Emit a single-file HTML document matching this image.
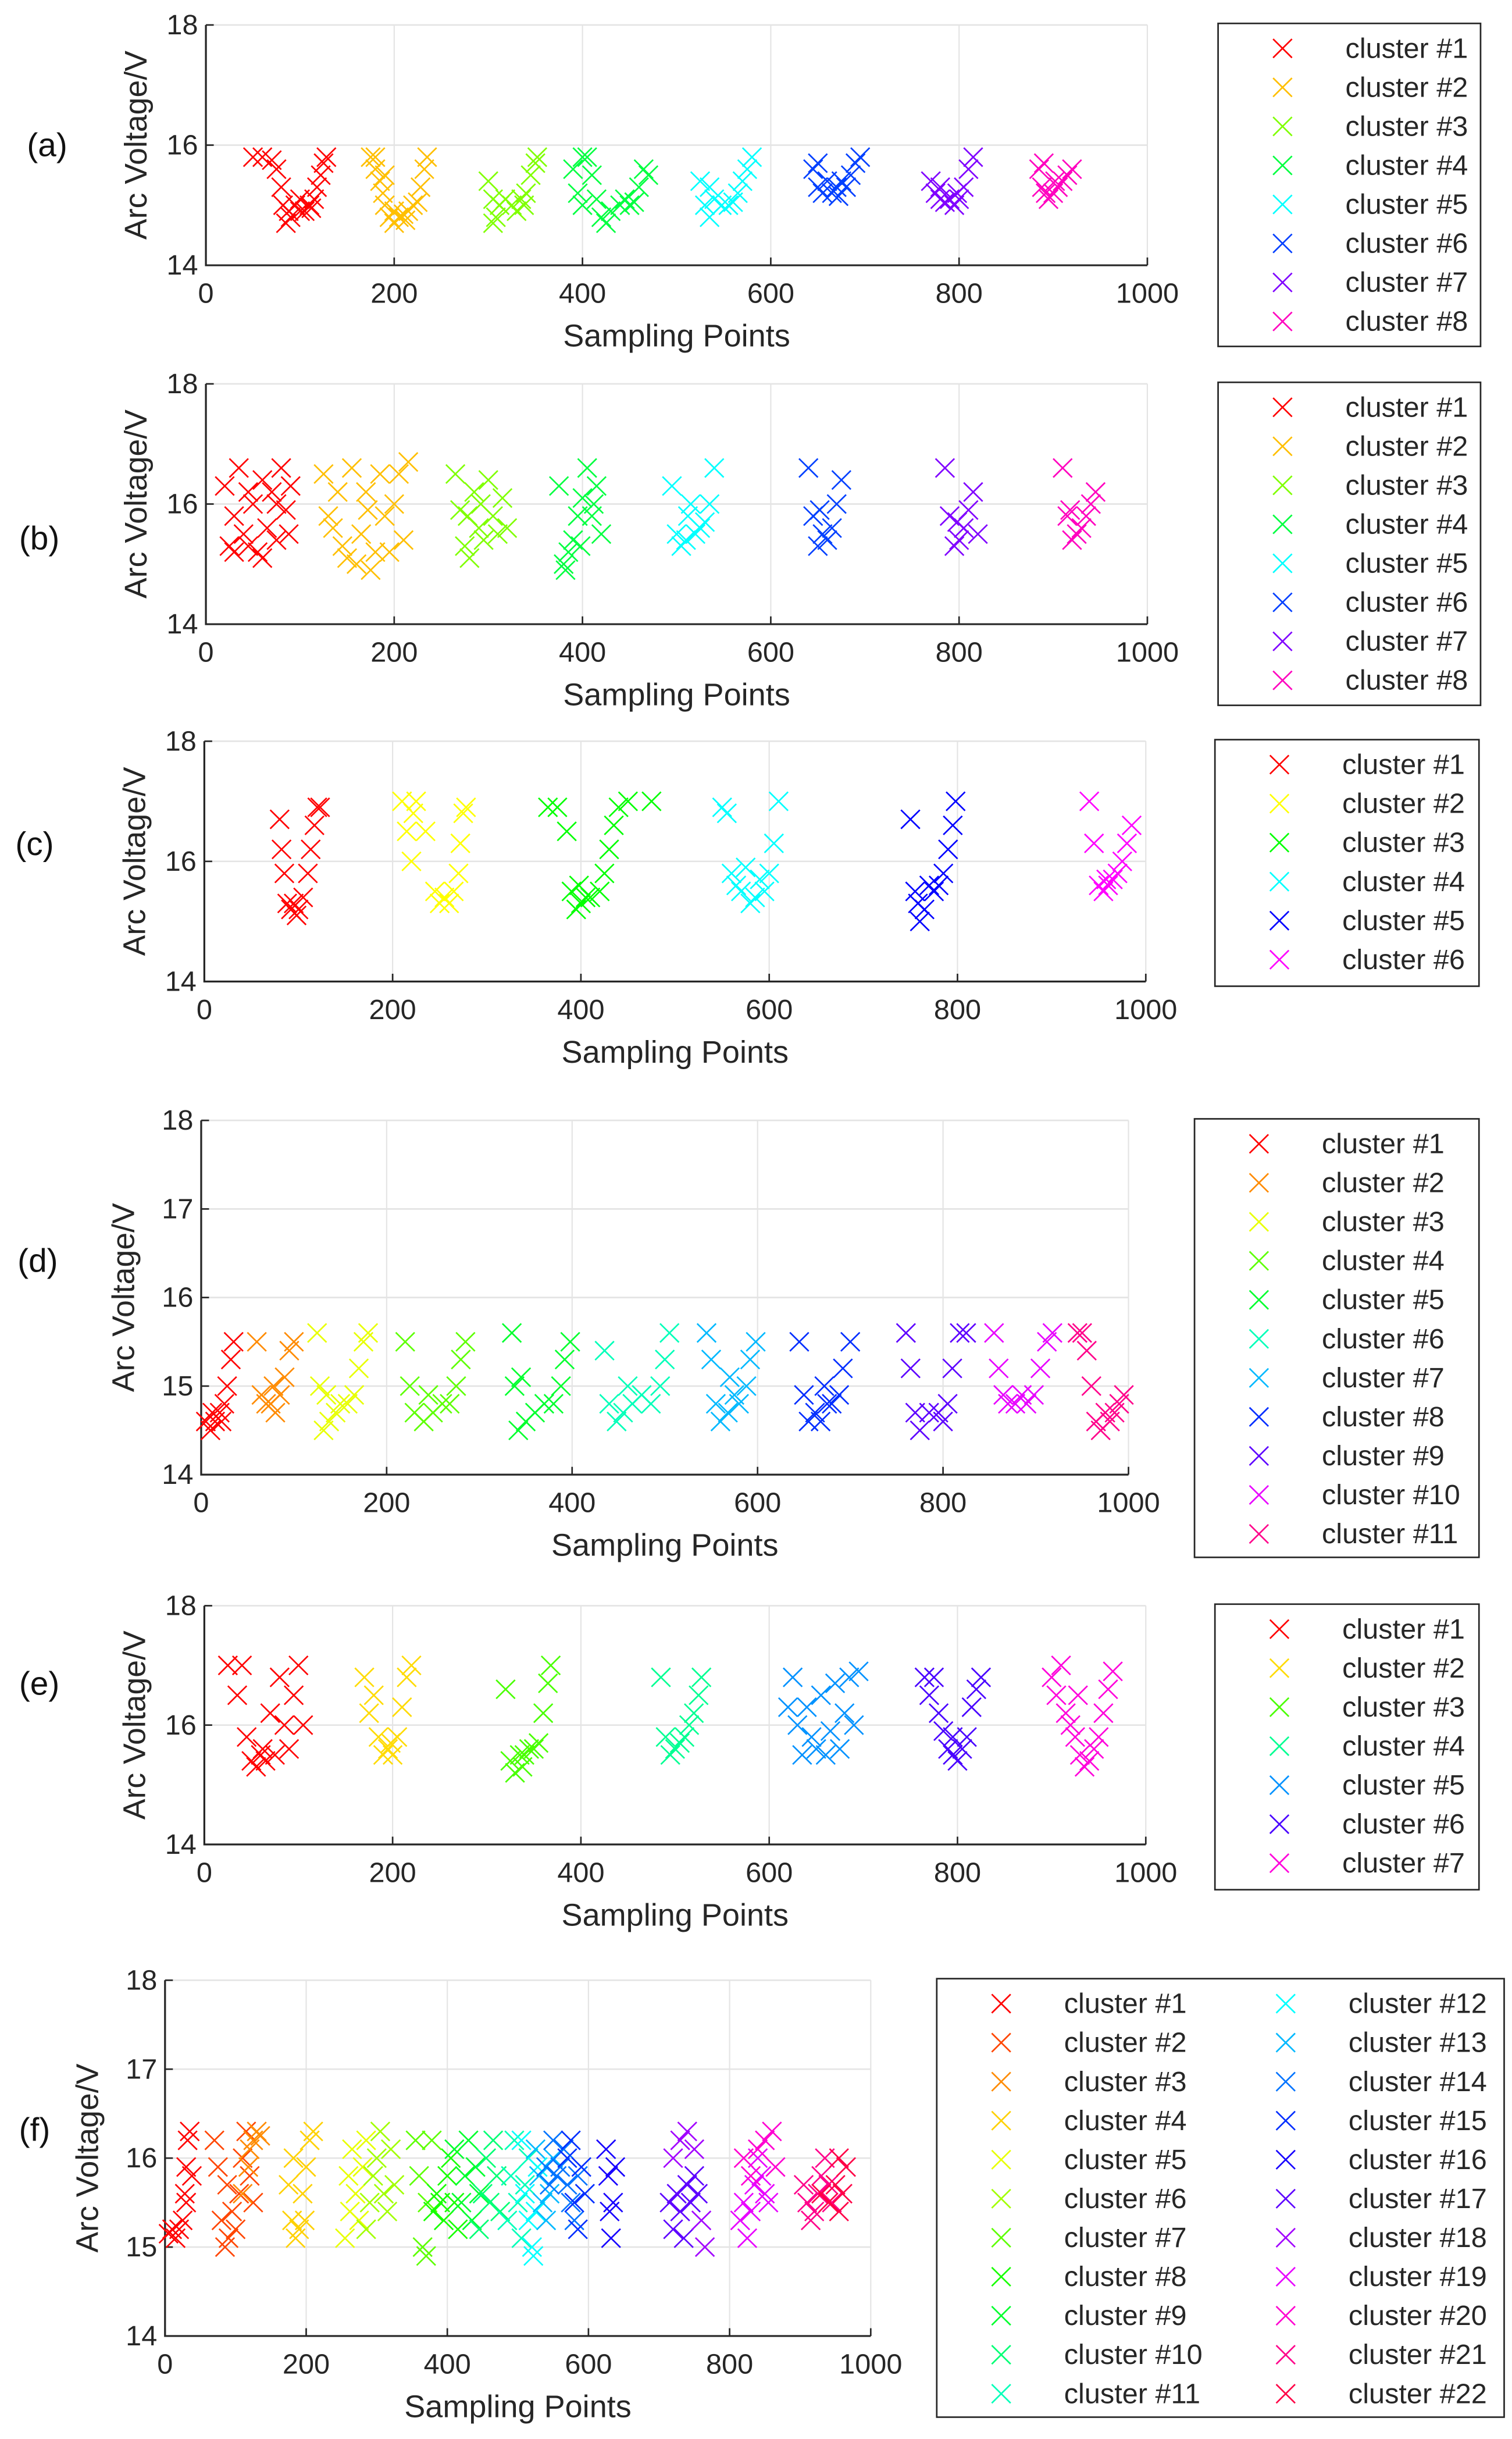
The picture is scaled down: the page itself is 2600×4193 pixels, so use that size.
<!DOCTYPE html>
<html><head><meta charset="utf-8"><style>
html,body{margin:0;padding:0;background:#fff;}
svg{display:block;font-family:"Liberation Sans",sans-serif;}
</style></head><body>
<svg id="fig" width="2600" height="4193" viewBox="0 0 962 1563" preserveAspectRatio="none" xmlns="http://www.w3.org/2000/svg"></svg>
<script>
// ---- data (x = sampling point, y = arc voltage) ----
const dataA = [
 [[50,15.8],[60,15.8],[70,15.75],[75,15.6],[80,15.3],[82,15.0],[85,14.7],[90,14.8],[95,15.0],[100,14.9],[105,14.9],[110,15.0],[115,15.1],[118,15.3],[122,15.5],[125,15.7],[128,15.8],[88,14.9],[100,15.1],[112,14.95]],
 [[175,15.8],[180,15.6],[185,15.4],[188,15.2],[190,15.0],[195,14.8],[200,14.7],[205,14.8],[210,14.85],[215,14.9],[220,15.0],[225,15.05],[228,15.3],[232,15.6],[235,15.8],[180,15.8],[190,15.5],[200,14.9],[212,14.75]],
 [[300,15.4],[305,15.1],[308,14.8],[312,15.0],[318,15.1],[325,15.0],[330,14.9],[335,15.1],[340,15.2],[345,15.5],[350,15.7],[352,15.8],[305,14.7],[338,15.0]],
 [[390,15.6],[395,15.2],[400,15.0],[405,15.8],[410,15.5],[415,15.1],[420,14.8],[425,14.7],[430,14.9],[440,15.0],[445,15.1],[450,15.0],[455,15.05],[460,15.3],[465,15.6],[400,15.8],[470,15.5]],
 [[525,15.4],[530,15.0],[535,14.8],[540,15.1],[548,15.0],[555,15.0],[560,15.05],[565,15.2],[570,15.4],[575,15.6],[580,15.8],[535,15.3]],
 [[645,15.6],[650,15.3],[655,15.2],[660,15.4],[665,15.2],[670,15.3],[675,15.4],[680,15.3],[685,15.5],[690,15.7],[695,15.8],[650,15.7],[672,15.15]],
 [[770,15.4],[775,15.2],[780,15.1],[785,15.05],[790,15.1],[795,15.0],[800,15.1],[805,15.3],[810,15.6],[815,15.8],[780,15.3],[798,15.2]],
 [[885,15.6],[888,15.3],[892,15.2],[895,15.1],[900,15.2],[905,15.3],[910,15.4],[915,15.5],[920,15.6],[890,15.7],[902,15.4]]
];
const dataB = [
 [[20,16.3],[25,15.3],[30,15.2],[35,16.6],[40,15.5],[45,15.3],[50,16.0],[55,15.2],[60,16.4],[65,15.6],[70,16.2],[75,15.4],[80,16.6],[85,15.9],[90,16.3],[30,15.8],[45,16.2],[60,15.1],[75,16.0],[88,15.5]],
 [[125,16.5],[130,15.8],[140,16.2],[145,15.3],[150,15.1],[155,16.6],[160,15.0],[165,15.5],[170,16.2],[175,14.9],[180,15.2],[185,16.5],[190,15.8],[195,15.2],[200,16.0],[205,16.5],[210,15.4],[215,16.7],[135,15.6],[172,15.9]],
 [[265,16.5],[270,15.9],[275,15.3],[280,15.1],[285,16.2],[290,15.6],[295,15.4],[300,16.4],[305,15.8],[310,15.5],[315,16.1],[320,15.6],[278,15.8],[292,16.0]],
 [[375,16.3],[380,15.0],[385,15.2],[390,15.4],[395,15.8],[400,16.1],[405,16.6],[410,15.8],[415,16.3],[420,15.5],[382,14.9],[398,15.3],[412,16.0]],
 [[495,16.3],[500,15.5],[505,15.3],[510,15.4],[515,16.0],[520,15.5],[525,15.6],[530,15.7],[535,16.0],[540,16.6],[512,15.8]],
 [[640,16.6],[645,15.8],[650,15.3],[655,15.5],[660,15.4],[665,15.6],[670,16.0],[675,16.4],[652,15.9]],
 [[785,16.6],[790,15.8],[795,15.3],[800,15.4],[805,15.6],[810,15.9],[815,16.2],[820,15.5],[798,15.7]],
 [[910,16.6],[915,15.8],[920,15.4],[925,15.5],[930,15.6],[935,15.8],[940,16.0],[945,16.2],[918,15.9]]
];
const dataC = [
 [[80,16.7],[82,16.2],[85,15.8],[88,15.3],[92,15.2],[95,15.3],[100,15.2],[105,15.4],[110,15.8],[113,16.2],[117,16.6],[120,16.9],[123,16.9],[98,15.1]],
 [[210,17.0],[215,16.5],[220,16.0],[225,17.0],[235,16.5],[245,15.5],[250,15.3],[255,15.4],[260,15.3],[265,15.5],[270,15.8],[272,16.3],[275,16.8],[278,16.9],[222,16.8]],
 [[365,16.9],[375,16.9],[385,16.5],[390,15.5],[395,15.2],[400,15.3],[405,15.4],[410,15.4],[420,15.5],[425,15.8],[430,16.2],[435,16.6],[440,16.9],[450,17.0],[475,17.0],[398,15.6]],
 [[550,16.9],[555,16.8],[560,15.8],[565,15.6],[570,15.5],[580,15.3],[585,15.4],[590,15.7],[595,15.5],[600,15.8],[605,16.3],[610,17.0],[575,15.9]],
 [[750,16.7],[755,15.5],[760,15.0],[765,15.2],[770,15.6],[775,15.5],[780,15.6],[785,15.8],[790,16.2],[795,16.6],[798,17.0],[758,15.3]],
 [[940,17.0],[945,16.3],[950,15.6],[955,15.5],[960,15.6],[965,15.7],[970,15.8],[975,16.0],[980,16.3],[985,16.6],[958,15.7]]
];
const dataD = [
 [[5,14.6],[10,14.5],[15,14.6],[20,14.7],[25,14.8],[28,15.0],[32,15.3],[35,15.5],[22,14.6],[12,14.7]],
 [[60,15.5],[65,14.9],[70,14.8],[75,14.8],[80,14.7],[85,14.9],[90,15.1],[95,15.4],[100,15.5],[78,15.0]],
 [[125,15.6],[128,15.0],[132,14.5],[138,14.6],[145,14.7],[150,14.8],[158,14.8],[165,14.9],[170,15.2],[175,15.5],[180,15.6],[135,14.9]],
 [[220,15.5],[225,15.0],[230,14.7],[240,14.6],[250,14.7],[260,14.8],[268,14.8],[275,15.0],[280,15.3],[285,15.5],[245,14.9]],
 [[335,15.6],[338,15.0],[342,14.5],[350,14.6],[360,14.7],[370,14.8],[380,14.8],[388,15.0],[392,15.3],[398,15.5],[345,15.1]],
 [[435,15.4],[440,14.8],[448,14.6],[455,14.7],[465,14.8],[475,14.9],[485,14.8],[495,15.0],[500,15.3],[505,15.6],[460,15.0]],
 [[545,15.6],[550,15.3],[555,14.8],[560,14.6],[568,14.7],[575,14.9],[580,14.8],[588,15.0],[592,15.3],[598,15.5],[570,15.1]],
 [[645,15.5],[650,14.9],[655,14.6],[662,14.7],[668,14.6],[675,14.8],[680,14.8],[688,14.9],[692,15.2],[700,15.5],[672,15.0]],
 [[760,15.6],[765,15.2],[770,14.7],[775,14.5],[785,14.7],[795,14.7],[800,14.6],[805,14.8],[810,15.2],[818,15.6],[825,15.6]],
 [[855,15.6],[860,15.2],[865,14.9],[870,14.8],[878,14.8],[885,14.9],[890,14.8],[898,14.9],[905,15.2],[912,15.5],[918,15.6]],
 [[945,15.6],[950,15.6],[955,15.4],[960,15.0],[965,14.6],[970,14.5],[975,14.7],[980,14.6],[985,14.7],[990,14.8],[995,14.9]]
];
const dataE = [
 [[25,17.0],[35,16.5],[40,17.0],[45,15.8],[50,15.4],[55,15.3],[60,15.5],[65,15.4],[70,16.2],[75,15.5],[80,16.8],[85,16.0],[90,15.6],[95,16.5],[100,17.0],[105,16.0],[62,15.6]],
 [[170,16.8],[175,16.2],[180,16.5],[185,15.8],[190,15.5],[195,15.6],[200,15.5],[205,15.8],[210,16.3],[215,16.8],[220,17.0],[198,15.7]],
 [[320,16.6],[325,15.4],[330,15.2],[335,15.5],[340,15.5],[345,15.6],[350,15.6],[355,15.7],[360,16.2],[365,16.7],[368,17.0],[338,15.3]],
 [[485,16.8],[490,15.8],[495,15.5],[500,15.6],[505,15.7],[510,15.8],[515,16.0],[520,16.2],[525,16.5],[528,16.8]],
 [[620,16.3],[625,16.8],[630,16.0],[635,15.5],[640,16.3],[645,15.8],[650,15.6],[655,16.5],[660,15.5],[665,15.9],[670,16.7],[675,15.6],[680,16.2],[685,16.8],[690,16.0],[695,16.9]],
 [[765,16.8],[770,16.5],[775,16.8],[780,16.2],[785,15.9],[790,15.6],[795,15.5],[800,15.4],[805,15.6],[810,15.8],[815,16.3],[820,16.6],[825,16.8],[795,15.8]],
 [[900,16.8],[905,16.5],[910,17.0],[915,16.2],[920,16.0],[925,15.8],[930,15.5],[935,15.3],[940,15.4],[945,15.6],[950,15.8],[955,16.2],[960,16.6],[965,16.9],[928,16.5]]
];
const dataF = [
 [[5,15.15],[10,15.2],[15,15.1],[20,15.2],[25,15.3],[28,15.6],[30,15.9],[32,16.2],[35,16.3],[38,15.8],[30,15.5]],
 [[70,16.2],[75,15.9],[80,15.3],[85,15.0],[90,15.1],[95,15.4],[100,15.2],[105,15.6],[110,16.0],[115,16.3],[120,15.8],[125,15.5],[88,15.7]],
 [[120,16.1],[125,16.2],[130,16.3],[135,16.25],[110,15.6],[118,15.9]],
 [[175,15.7],[180,15.3],[185,15.1],[190,15.2],[195,15.6],[200,15.9],[205,16.2],[210,16.3],[182,16.0],[198,15.3]],
 [[255,15.1],[260,15.8],[265,16.1],[270,15.6],[275,15.3],[280,15.9],[285,16.2],[262,15.4]],
 [[285,15.2],[290,15.5],[295,15.8],[300,16.0],[305,16.3],[310,15.6],[315,15.4],[320,16.1],[325,15.7]],
 [[355,16.2],[360,15.8],[365,15.0],[370,14.9],[372,15.5],[378,16.2]],
 [[380,15.4],[385,15.6],[390,15.5],[395,15.3],[400,15.8],[405,16.0],[410,15.5],[415,15.2]],
 [[410,16.1],[420,15.5],[425,15.8],[430,16.2],[435,15.3],[440,15.9],[445,15.6]],
 [[445,15.2],[450,15.6],[455,16.0],[460,15.5],[465,16.2],[470,15.8],[475,15.4]],
 [[485,15.3],[490,15.8],[495,16.2],[500,15.5],[505,15.1],[510,15.7],[515,16.0]],
 [[505,16.2],[510,15.6],[515,15.3],[520,15.0],[522,14.9],[525,15.4],[528,15.9]],
 [[525,16.1],[530,15.8],[535,15.5],[540,15.3],[545,15.6],[550,16.0]],
 [[540,15.9],[545,15.7],[550,16.2],[555,15.8],[560,15.9],[565,16.1],[570,15.7],[575,15.5],[580,15.3],[585,15.8]],
 [[570,16.0],[575,16.2],[580,15.5],[585,15.2],[590,15.9],[595,15.6]],
 [[625,16.1],[628,15.8],[630,15.4],[632,15.1],[635,15.5],[638,15.9]],
 [[715,15.5],[720,15.2],[725,15.6],[730,15.4],[735,15.1],[740,15.7],[745,15.5],[750,15.8],[755,15.6]],
 [[720,16.0],[730,16.2],[740,16.3],[750,16.1],[760,15.3],[765,15.0]],
 [[815,15.3],[820,15.5],[825,15.1],[830,15.4],[835,15.7],[840,16.0],[845,15.8],[850,15.6],[855,15.5]],
 [[820,16.0],[830,15.8],[840,16.1],[850,16.2],[860,16.3],[865,15.9]],
 [[905,15.7],[910,15.5],[915,15.3],[920,15.4],[925,15.6],[930,15.8],[935,16.0],[940,15.7],[945,15.5]],
 [[930,15.6],[940,15.5],[950,15.7],[955,15.4],[960,15.6],[965,15.9],[955,16.0]]
];
const xTicks = [0,200,400,600,800,1000];
const yTicks2 = [14,16,18];
const yTicks1 = [14,15,16,17,18];

// ---- layout (pixels, not data) ----
const panels = [
 {id:'a',data:dataA,x0:131,x1:730,y0:16,y1:170,yt:yTicks2,lg:[775,15,942,222],ytx:88,lbx:30},
 {id:'b',data:dataB,x0:131,x1:730,y0:246,y1:400,yt:yTicks2,lg:[775,245,942,452],ytx:88,lbx:25},
 {id:'c',data:dataC,x0:130,x1:729,y0:475,y1:629,yt:yTicks2,lg:[773,474,941,632],ytx:87,lbx:22},
 {id:'d',data:dataD,x0:128,x1:718,y0:718,y1:945,yt:yTicks1,lg:[760,717,941,998],ytx:80,lbx:24},
 {id:'e',data:dataE,x0:130,x1:729,y0:1029,y1:1182,yt:yTicks2,lg:[773,1028,941,1211],ytx:87,lbx:25},
 {id:'f',data:dataF,x0:105,x1:554,y0:1269,y1:1497,yt:yTicks1,lg:[596,1268,957,1549],ytx:57,lbx:22}
];
const NS='http://www.w3.org/2000/svg';
const svg=document.getElementById('fig');
function mk(tag,attrs,parent){const e=document.createElementNS(NS,tag);for(const k in attrs)e.setAttribute(k,attrs[k]);(parent||svg).appendChild(e);return e;}
function col(i,n){return 'hsl('+(360*i/n)+',100%,50%)';}
function cross(g,cx,cy,c){
  const p=mk('path',{d:`M${cx-6},${cy-6}L${cx+6},${cy+6}M${cx-6},${cy+6}L${cx+6},${cy-6}`,stroke:c,'stroke-width':1,fill:'none'},g);
  return p;
}
panels.forEach(P=>{
  const g=mk('g',{});
  
  
  const ymin=P.yt[0],ymax=P.yt[P.yt.length-1];
  const sx=v=>P.x0+(v-0)/(1000)*(P.x1-P.x0);
  const sy=v=>P.y1-(v-ymin)/(ymax-ymin)*(P.y1-P.y0);
  // grid
  xTicks.forEach(t=>{const l=mk('line',{x1:sx(t),x2:sx(t),y1:P.y0,y2:P.y1,stroke:'#e4e4e4','stroke-width':0.8},g);
    });
  P.yt.forEach(t=>{const l=mk('line',{x1:P.x0,x2:P.x1,y1:sy(t),y2:sy(t),stroke:'#e4e4e4','stroke-width':1},g);
    });
  // axes
  const ax=mk('path',{d:`M${P.x0},${P.y0}V${P.y1}H${P.x1}`,stroke:'#262626','stroke-width':1.2,fill:'none'},g);
  
  xTicks.forEach(t=>{
    mk('line',{x1:sx(t),x2:sx(t),y1:P.y1,y2:P.y1-5,stroke:'#262626','stroke-width':1},g);
    const tx=mk('text',{x:sx(t),y:P.y1+24,'text-anchor':'middle','font-size':18,fill:'#262626'},g);
    tx.textContent=t;
    
  });
  P.yt.forEach(t=>{
    mk('line',{x1:P.x0,x2:P.x0+5,y1:sy(t),y2:sy(t),stroke:'#262626','stroke-width':1},g);
    const tx=mk('text',{x:P.x0-5,y:sy(t)+6,'text-anchor':'end','font-size':18,fill:'#262626'},g);
    tx.textContent=t;
    
  });
  const xt=mk('text',{x:(P.x0+P.x1)/2,y:P.y1+52,'text-anchor':'middle','font-size':20,fill:'#262626'},g);
  xt.textContent='Sampling Points';
  
  const yc=(P.y0+P.y1)/2;
  const yt=mk('text',{x:P.ytx,y:yc,'text-anchor':'middle','font-size':20,fill:'#262626',transform:`rotate(-90 ${P.ytx} ${yc})`,'dominant-baseline':'middle'},g);
  yt.textContent='Arc Voltage/V';
  
  const lb=mk('text',{x:P.lbx,y:[93,345,541,808,1079,1365][panels.indexOf(P)]+7,'text-anchor':'middle','font-size':21,fill:'#111'},g);
  lb.textContent='('+P.id+')';
  
  // series
  const n=P.data.length;
  P.data.forEach((cl,i)=>{
    const sg=mk('g',{},g);
    
    
    cl.forEach(pt=>{const m=cross(sg,sx(pt[0]),sy(pt[1]),col(i,n));
      });
  });
  // legend
  const [lx0,ly0,lx1,ly1]=P.lg;
  const lg=mk('g',{},g);
  
  mk('rect',{x:lx0,y:ly0,width:lx1-lx0,height:ly1-ly0,fill:'#fff',stroke:'#262626','stroke-width':1},lg);
  const twoCol=n>12;
  const rows=twoCol?Math.ceil(n/2):n;
  for(let i=0;i<n;i++){
    const c=twoCol?Math.floor(i/rows):0, r=twoCol?i%rows:i;
    const mx=lx0+41+c*181, my=ly0+16+r*25;
    const e=mk('g',{},lg);
    
    cross(e,mx,my,col(i,n));
    const t=mk('text',{x:mx+40,y:my+6,'font-size':18,fill:'#262626'},e);
    t.textContent='cluster #'+(i+1);
  }
});
</script>
</body></html>
